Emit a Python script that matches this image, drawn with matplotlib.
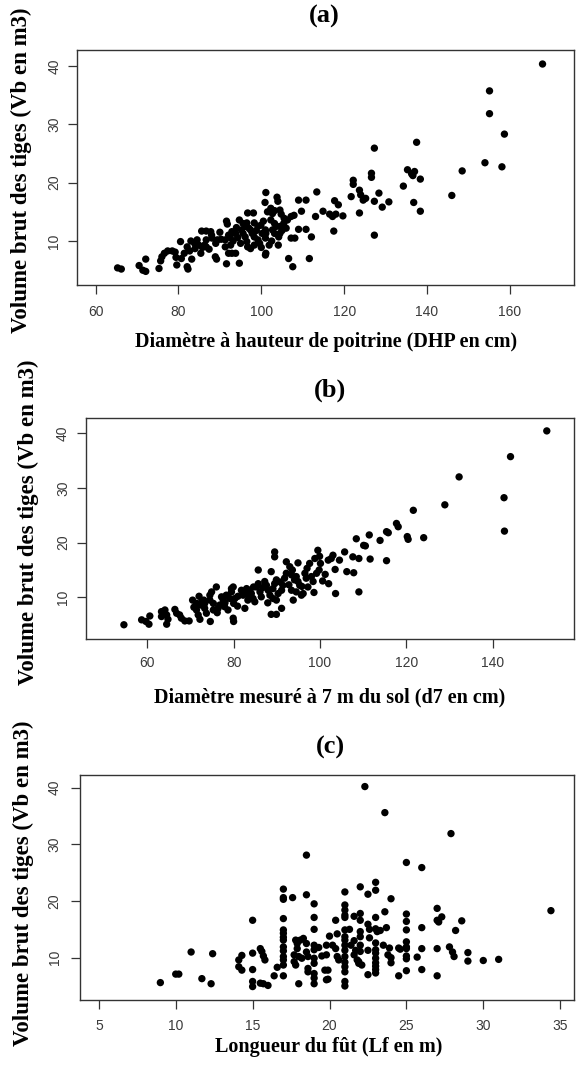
import numpy as np
import matplotlib.pyplot as plt

# (a) DHP (cm) vs Vb (m3)
dhp_vb = np.array([
    [167.9, 40.3], [155.1, 35.7], [155.1, 31.8], [158.7, 28.3], [154.0, 23.4], [158.1, 22.7], [148.5, 22.0], [146.0, 17.8],
    [137.5, 26.9], [135.3, 22.2], [136.3, 21.5], [137.0, 21.9], [136.6, 21.2], [138.4, 20.6], [134.3, 19.4], [136.8, 16.6],
    [138.4, 15.1], [127.3, 25.9], [126.6, 21.6], [126.6, 20.9], [128.4, 18.2], [127.3, 16.8], [130.8, 16.7], [129.2, 15.8],
    [127.3, 11.0], [122.2, 20.4], [122.2, 19.7], [123.7, 18.7], [124.0, 17.9], [125.2, 17.3], [124.6, 17.0], [121.7, 17.6],
    [123.7, 14.8], [117.7, 16.9], [118.6, 16.2], [113.4, 18.4], [114.9, 15.1], [116.5, 14.6], [117.2, 14.2], [118.0, 14.6],
    [119.7, 14.3], [113.1, 14.2], [117.5, 11.7], [101.1, 18.3], [109.0, 17.0], [110.8, 17.0], [103.8, 17.5], [104.0, 16.8],
    [100.9, 16.6], [101.5, 15.0], [102.3, 15.6], [102.7, 14.7], [103.2, 15.2], [104.5, 15.3], [109.7, 15.1], [96.7, 14.8],
    [98.1, 14.8],
    # middle cluster
    [85.6, 11.7], [86.7, 11.7], [87.8, 11.6], [88.1, 10.5], [89.4, 10.2], [90.3, 10.3], [91.3, 10.2], [92.1, 11.0],
    [92.5, 10.6], [92.9, 11.6], [91.6, 13.4], [91.8, 12.9], [93.8, 11.3], [94.3, 10.6], [95.2, 11.9], [95.6, 11.3],
    [96.1, 10.7], [96.5, 9.9], [96.7, 9.0], [97.4, 11.9], [97.8, 11.3], [98.3, 10.7], [99.2, 10.2], [99.6, 9.6],
    [100.2, 11.3], [101.0, 11.9], [96.5, 13.1], [98.3, 13.1], [99.2, 12.5], [99.9, 12.7], [94.7, 13.6], [95.6, 13.0],
    [96.1, 12.5], [102.3, 13.6], [103.2, 13.0], [103.6, 12.5], [104.5, 12.5], [105.4, 13.0], [106.3, 13.6], [107.2, 14.2],
    [107.9, 14.4], [102.7, 11.9], [103.2, 11.3], [104.5, 11.3], [104.2, 10.7], [104.1, 9.3], [101.1, 11.3], [101.0, 10.5],
    [101.9, 9.3], [98.3, 9.3], [97.4, 8.7], [91.3, 9.0], [92.1, 7.9], [92.6, 9.3], [93.8, 7.9], [88.0, 11.0],
    [86.7, 10.2], [86.3, 9.3], [87.4, 8.6], [88.9, 7.3], [89.2, 6.9], [91.6, 6.1], [94.7, 6.2], [92.9, 7.9],
    [101.1, 7.9], [101.0, 7.6], [106.6, 7.0], [107.6, 5.6], [111.6, 7.0], [109.0, 12.0], [110.8, 12.0], [108.1, 10.5],
    [107.2, 10.5], [112.1, 10.7], [104.8, 14.6], [105.5, 13.9], [100.5, 13.4], [97.0, 12.2], [94.0, 12.3], [93.2, 10.0],
    [90.0, 11.5], [89.0, 9.6], [102.5, 10.0], [100.0, 8.9], [95.0, 9.6], [106.0, 12.2], [105.0, 11.8], [98.8, 11.8],
    # left
    [65.3, 5.4], [66.2, 5.2], [70.5, 5.8], [71.4, 5.0], [72.1, 4.8], [72.1, 6.9], [75.3, 5.3], [75.7, 6.6],
    [76.0, 7.3], [76.6, 7.9], [77.4, 8.3], [78.5, 8.3], [79.2, 8.1], [79.4, 7.2], [79.6, 5.9], [80.7, 7.0],
    [82.1, 5.6], [82.3, 5.2], [80.5, 9.9], [82.1, 9.0], [82.7, 8.3], [83.0, 10.0], [83.9, 9.6], [84.9, 9.3],
    [85.8, 8.9], [83.2, 6.9], [85.4, 7.9], [81.4, 7.9], [84.0, 8.7], [84.5, 10.2], [86.7, 9.0],
])
dhp, vol_a = dhp_vb.T

# (b) d7 (cm) vs Vb (m3)
d7_vb = np.array([
    [54.6, 5.0], [58.7, 5.9], [59.7, 5.6], [60.4, 5.1], [60.6, 6.6], [63.3, 7.4], [63.3, 6.5], [64.1, 7.7],
    [64.5, 6.8], [64.8, 6.0], [64.5, 5.1], [66.4, 7.8], [66.8, 7.1], [67.5, 6.8], [67.9, 6.2], [68.7, 5.7],
    [69.7, 5.7], [70.5, 9.5], [70.8, 8.2], [71.4, 7.7], [71.8, 6.8], [72.2, 6.0], [72.0, 10.2], [72.6, 9.2],
    [72.9, 8.6], [73.3, 8.0], [73.7, 7.1], [73.1, 9.5], [72.2, 8.6], [71.4, 8.9], [73.3, 8.9], [74.5, 10.4],
    [74.9, 11.0], [74.5, 9.5], [75.3, 8.9], [76.0, 11.9], [75.3, 7.7], [74.6, 5.6], [76.4, 8.0], [76.8, 8.6],
    [77.6, 9.5], [77.2, 10.1], [78.3, 10.4], [77.9, 8.3], [78.7, 7.7], [79.5, 11.0], [79.5, 11.6], [79.9, 11.9],
    [79.1, 9.8], [80.0, 8.9], [80.3, 9.8], [79.9, 6.2], [80.0, 5.6], [81.8, 11.3], [82.2, 10.4], [82.6, 11.0],
    [83.0, 11.6], [83.7, 11.3], [84.1, 10.7], [84.5, 9.8], [84.9, 9.2], [83.3, 9.5], [82.6, 8.0], [85.3, 11.9],
    [85.7, 12.5], [86.1, 11.0], [86.4, 10.1], [87.2, 12.9], [87.6, 12.2], [88.0, 11.3], [88.4, 10.4], [89.1, 11.6],
    [89.5, 12.5], [89.9, 13.2], [89.1, 9.8], [89.9, 9.5], [90.3, 10.7], [91.1, 11.3], [91.4, 12.2], [91.8, 13.5],
    [92.2, 14.4], [91.1, 8.0], [89.9, 6.9], [88.7, 6.9], [85.7, 15.0], [88.7, 14.7], [89.5, 18.3], [89.5, 17.4],
    [92.2, 16.5], [93.0, 15.6], [93.6, 15.0], [93.4, 14.1], [94.5, 13.8], [94.9, 12.9], [95.3, 12.2], [94.1, 13.2],
    [94.9, 16.3], [96.5, 14.4], [96.8, 13.5], [96.1, 10.7], [93.8, 9.5], [93.4, 11.3], [94.5, 11.0], [95.7, 10.4],
    [97.2, 11.9], [98.4, 12.9], [98.0, 13.8], [97.6, 16.2], [98.8, 17.1], [99.5, 18.6], [99.9, 17.5], [100.1, 16.2],
    [99.8, 15.0], [99.2, 14.4], [101.9, 16.8], [102.6, 17.1], [103.0, 17.7], [104.5, 16.8], [105.7, 18.3], [106.2, 14.7],
    [103.5, 15.1], [103.6, 10.7], [107.8, 14.5], [107.6, 17.4], [109.0, 17.1], [111.6, 17.0], [115.4, 16.7], [109.0, 11.0],
    [108.4, 20.7], [110.1, 19.5], [110.5, 19.4], [111.4, 21.4], [113.9, 20.4], [115.4, 22.0], [115.8, 21.8], [117.7, 23.5],
    [118.1, 22.9], [120.2, 21.1], [120.4, 20.6], [124.0, 20.9], [121.6, 25.9], [128.9, 26.9], [132.2, 32.0], [142.6, 28.2],
    [142.7, 22.1], [144.1, 35.7], [152.5, 40.4],
    [81.0, 10.2], [86.8, 11.8], [90.8, 12.8], [95.8, 12.0], [100.6, 13.0], [101.2, 14.2], [98.6, 10.9], [92.8, 12.3],
    [84.6, 11.9], [78.0, 9.0], [76.2, 7.2], [87.9, 9.0], [80.9, 8.4], [83.6, 10.4], [102.0, 12.5], [97.0, 15.3],
])
d7, vol_b = d7_vb.T

# (c) Lf (m) vs Vb (m3)
lf_vb = np.array([
    [9.0, 5.6], [10.0, 7.1], [10.2, 7.1], [11.0, 11.0], [11.7, 6.3], [12.3, 5.4], [12.4, 10.7], [14.1, 9.6],
    [14.1, 8.4], [14.3, 7.8], [14.3, 10.4], [15.0, 16.6], [15.0, 10.8], [15.0, 7.9], [15.0, 5.8], [15.0, 4.9],
    [15.5, 11.6], [15.6, 11.1], [15.7, 10.3], [15.8, 9.6], [15.5, 5.5], [15.7, 5.4], [16.0, 5.1], [16.4, 6.8],
    [16.6, 8.3], [17.0, 22.1], [17.0, 20.6], [17.0, 20.3], [17.0, 16.9], [17.0, 14.9], [17.0, 14.3], [17.0, 13.6],
    [17.0, 13.1], [17.0, 11.9], [17.0, 11.2], [17.0, 10.2], [17.0, 9.6], [17.0, 8.7], [17.0, 6.8], [17.6, 20.6],
    [17.8, 13.1], [17.9, 12.5], [18.1, 13.1], [18.3, 13.4], [18.5, 12.5], [17.9, 11.6], [17.7, 10.5], [17.7, 9.3],
    [17.8, 8.7], [18.0, 10.2], [18.2, 9.9], [18.5, 11.0], [18.6, 10.2], [18.0, 5.4], [18.5, 28.1], [18.5, 21.1],
    [18.6, 8.1], [18.6, 7.5], [19.0, 19.5], [19.0, 17.1], [19.0, 15.0], [19.0, 12.2], [19.0, 11.4], [19.0, 9.9],
    [19.0, 9.0], [19.0, 7.2], [19.0, 6.4], [19.0, 5.4], [19.3, 11.8], [19.5, 10.3], [19.8, 12.2], [19.8, 10.5],
    [19.7, 7.8], [19.9, 7.8], [19.8, 6.1], [19.9, 6.2], [20.0, 13.8], [20.4, 16.6], [20.5, 14.2], [20.2, 12.2],
    [20.4, 11.6], [20.5, 10.2], [20.6, 9.6], [21.0, 21.6], [21.0, 19.3], [21.0, 18.4], [21.0, 17.5], [21.0, 17.1],
    [21.0, 14.9], [21.0, 13.7], [21.0, 13.1], [21.0, 12.2], [21.0, 11.3], [21.0, 10.2], [21.0, 9.2], [21.0, 8.4],
    [21.0, 7.5], [21.0, 5.8], [21.0, 5.0], [21.4, 12.2], [21.6, 13.0], [21.7, 11.3], [21.8, 9.6], [21.9, 9.0],
    [21.6, 10.5], [21.3, 15.0], [21.6, 17.3], [22.0, 22.5], [22.0, 17.8], [22.0, 16.6], [22.0, 14.6], [22.0, 13.7],
    [22.0, 12.2], [22.0, 11.1], [21.9, 9.3], [22.1, 8.7], [22.3, 40.2], [22.5, 21.2], [22.5, 15.9], [22.6, 15.0],
    [22.6, 13.5], [22.5, 11.3], [22.5, 7.0], [23.0, 23.3], [23.0, 21.9], [23.0, 17.1], [23.0, 15.1], [23.1, 14.6],
    [23.0, 12.6], [23.0, 11.4], [23.0, 10.8], [23.0, 9.9], [23.0, 9.1], [23.0, 8.5], [23.0, 7.9], [23.0, 7.3],
    [23.3, 14.8], [23.5, 12.2], [23.6, 35.6], [23.6, 18.1], [23.7, 15.3], [23.8, 10.5], [24.0, 20.4], [24.0, 10.0],
    [24.0, 9.1], [23.9, 11.7], [24.5, 11.7], [24.6, 11.5], [24.5, 6.8], [25.0, 26.8], [25.0, 17.7], [25.0, 16.4],
    [25.0, 14.9], [25.0, 12.8], [25.0, 11.9], [25.0, 11.6], [25.0, 10.3], [25.0, 9.8], [25.0, 7.7], [25.7, 10.1],
    [26.0, 25.9], [26.0, 15.3], [26.0, 11.6], [26.0, 7.9], [27.0, 18.7], [27.0, 16.6], [27.1, 16.3], [27.0, 11.6],
    [27.0, 6.8], [27.3, 17.2], [27.9, 31.9], [27.8, 11.9], [28.0, 11.0], [28.1, 10.2], [28.2, 14.8], [28.6, 16.5],
    [29.0, 10.9], [29.0, 9.4], [30.0, 9.5], [31.0, 9.7], [34.4, 18.3],
])
lf, vol_c = lf_vb.T

W, H = 578, 1067
fig = plt.figure(figsize=(W / 100, H / 100), dpi=100)

serif = 'Liberation Serif'
sans = 'Liberation Sans'


def px_axes(left, right, top, bottom):
    return fig.add_axes([left / W, 1 - bottom / H, (right - left) / W, (bottom - top) / H])


def draw_panel(ax, x, y, xlim, ylim, xticks, xpad, ypad):
    ax.scatter(x, y, s=28, c='black', edgecolors='none', zorder=3)
    ax.set_xlim(*xlim)
    ax.set_ylim(*ylim)
    ax.set_xticks(xticks)
    ax.set_yticks([10, 20, 30, 40])
    for sp in ax.spines.values():
        sp.set_linewidth(1.0)
        sp.set_color('#333333')
    ax.tick_params(length=6.5, width=0.9, color='#333333', labelcolor='#3a3a3a', labelsize=10)
    ax.tick_params(axis='x', pad=xpad)
    ax.tick_params(axis='y', pad=ypad, labelrotation=90)
    for lab in ax.get_xticklabels() + ax.get_yticklabels():
        lab.set_family(sans)
    for lab in ax.get_yticklabels():
        lab.set_va('center')


def fig_text(x, y, s, size, rot=0):
    fig.text(x / W, 1 - y / H, s, fontsize=size, fontweight='bold', family=serif,
             ha='center', va='center', rotation=rot)


ax_a = px_axes(77.4, 574, 50, 285)
draw_panel(ax_a, dhp, vol_a, (55.6, 175.5), (2.47, 42.7), [60, 80, 100, 120, 140, 160], 8, 5)
ax_b = px_axes(85.9, 574, 418.3, 639)
draw_panel(ax_b, d7, vol_b, (45.8, 158.8), (2.4, 42.7), [60, 80, 100, 120, 140], 6, 5)
ax_c = px_axes(80.4, 574, 775, 1000)
draw_panel(ax_c, lf, vol_c, (3.8, 35.9), (2.53, 42.24), [5, 10, 15, 20, 25, 30, 35], 7, 7)

ylab = 'Volume brut des tiges (Vb en m3)'
fig_text(324, 16, '(a)', 19)
fig_text(21, 170, ylab, 16.5, 90)
fig_text(326, 342, 'Diamètre à hauteur de poitrine (DHP en cm)', 14.5)

fig_text(330, 390, '(b)', 19)
fig_text(28, 522, ylab, 16.5, 90)
fig_text(330, 697, 'Diamètre mesuré à 7 m du sol (d7 en cm)', 14.5)

fig_text(330, 747, '(c)', 19)
fig_text(23, 883, ylab, 16.5, 90)
fig_text(329, 1047, 'Longueur du fût (Lf en m)', 14.5)

plt.savefig('out.png', dpi=100)
